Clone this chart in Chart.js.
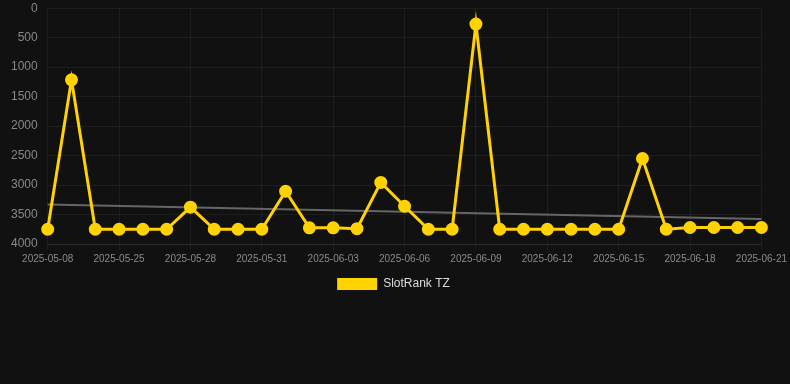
<!DOCTYPE html>
<html>
<head>
<meta charset="utf-8">
<script src="https://cdn.jsdelivr.net/npm/chart.js@4/dist/chart.umd.min.js"></script>
<style>
  html, body { margin: 0; padding: 0; background: #111111; overflow: hidden; }
  #wrap { width: 790px; height: 384px; background: #111111; overflow: hidden; }
  #rankChart { display: block; margin-top: -9px; }
</style>
</head>
<body>
<div id="wrap"><canvas id="rankChart" width="790" height="309"></canvas></div>
<script>
var labels = ['2025-05-08','2025-05-23','2025-05-24','2025-05-25','2025-05-26','2025-05-27','2025-05-28','2025-05-29','2025-05-30','2025-05-31',
  '2025-06-01','2025-06-02','2025-06-03','2025-06-04','2025-06-05','2025-06-06','2025-06-07','2025-06-08','2025-06-09','2025-06-10',
  '2025-06-11','2025-06-12','2025-06-13','2025-06-14','2025-06-15','2025-06-16','2025-06-17','2025-06-18','2025-06-19','2025-06-20','2025-06-21'];
var rankValues = [3750, 1215, 3750, 3750, 3750, 3750, 3375, 3750, 3750, 3750,
  3105, 3725, 3725, 3740, 2955, 3360, 3750, 3750, 270, 3750,
  3750, 3750, 3750, 3750, 3750, 2550, 3750, 3720, 3720, 3720, 3720];
var trendStart = 3330;
var trendEnd = 3575;
var yTicks = [0, 500, 1000, 1500, 2000, 2500, 3000, 3500, 4000];

var trendValues = labels.map(function (l, i) {
  if (i === 0) return trendStart;
  if (i === labels.length - 1) return trendEnd;
  return null;
});

var ctx = document.getElementById('rankChart').getContext('2d');
var chart = new Chart(ctx, {
  type: 'line',
  data: {
    labels: labels,
    datasets: [{
      label: 'SlotRank TZ',
      data: rankValues,
      borderColor: '#FFD200',
      backgroundColor: '#FFD200',
      borderWidth: 3,
      pointRadius: 5,
      pointHoverRadius: 6,
      tension: 0,
      borderJoinStyle: 'miter'
    }, {
      label: 'trend',
      data: trendValues,
      borderColor: '#666666',
      borderWidth: 2,
      pointRadius: 0,
      spanGaps: true,
      fill: false
    }]
  },
  options: {
    responsive: false,
    animation: false,
    layout: { padding: { left: 1, right: 4, top: 0, bottom: 0 } },
    scales: {
      x: {
        grid: {
          color: function (c) { return c.index % 3 === 0 ? 'rgba(255,255,255,0.05)' : 'rgba(0,0,0,0)'; },
          drawTicks: true,
          tickLength: 6
        },
        border: { color: 'rgba(255,255,255,0.08)' },
        ticks: {
          color: '#8a8a8a',
          font: { family: 'Liberation Sans, Arial', size: 10 },
          maxRotation: 0,
          autoSkip: false,
          callback: function (v, i) { return i % 3 === 0 ? this.getLabelForValue(v) : ''; }
        }
      },
      y: {
        reverse: true,
        min: 0,
        max: 4000,
        afterBuildTicks: function (axis) { axis.ticks = yTicks.map(function (v) { return { value: v }; }); },
        grid: { color: 'rgba(255,255,255,0.05)', drawTicks: false },
        border: { display: false },
        ticks: {
          color: '#888888',
          padding: 10,
          font: { family: 'Liberation Sans, Arial', size: 12 },
          callback: function (v) { return String(v); }
        }
      }
    },
    plugins: {
      legend: {
        position: 'bottom',
        labels: {
          color: '#dddddd',
          boxWidth: 40,
          boxHeight: 12,
          font: { family: 'Liberation Sans, Arial', size: 12 },
          filter: function (item) { return item.text !== 'trend'; },
          generateLabels: function (c) {
            var items = Chart.defaults.plugins.legend.labels.generateLabels(c);
            items.forEach(function (it) { it.lineWidth = 0; });
            return items;
          }
        }
      },
      tooltip: { enabled: false }
    }
  }
});
</script>
</body>
</html>
